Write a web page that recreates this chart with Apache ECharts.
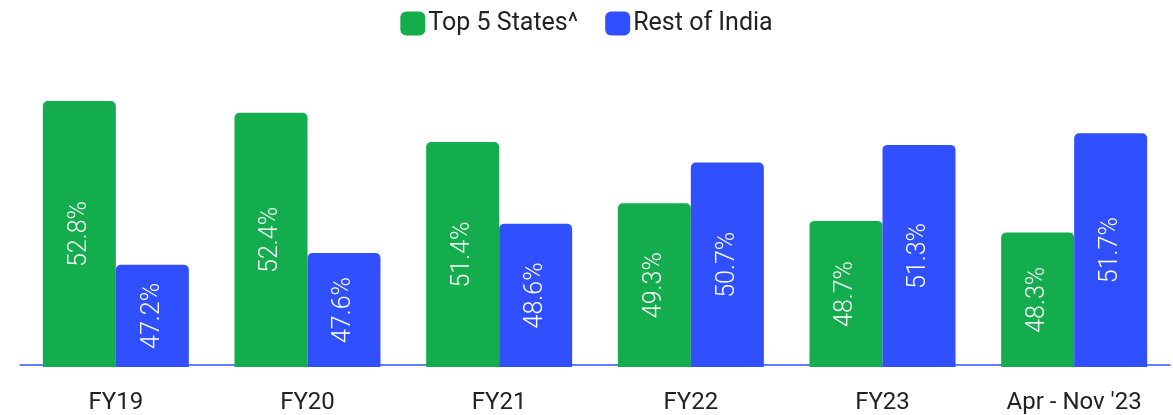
<!DOCTYPE html>
<html>
<head>
<meta charset="utf-8">
<script src="https://cdn.jsdelivr.net/npm/echarts@6/dist/echarts.min.js"></script>
<style>
  html, body { margin: 0; padding: 0; background: #fff; }
  #chart { width: 1173px; height: 415px; }
</style>
</head>
<body>
<div id="chart"></div>
<script>
const categories = ['FY19', 'FY20', 'FY21', 'FY22', 'FY23', "Apr - Nov '23"];
const top5States = [52.8, 52.4, 51.4, 49.3, 48.7, 48.3];
const restOfIndia = [47.2, 47.6, 48.6, 50.7, 51.3, 51.7];

const green = '#14ad4d';
const blue = '#3050ff';
const font = 'Roboto';

let myChart = echarts.init(document.getElementById('chart'));

function barLabel() {
    return {
        show: true,
        position: 'inside',
        rotate: 90,
        color: '#fff',
        fontFamily: font,
        fontWeight: 300,
        fontSize: 25,
        formatter: p => p.value.toFixed(1) + '%'
    };
}

let option = {
    animation: false,
    legend: {
        top: 6,
        left: 'center',
        itemWidth: 25,
        itemHeight: 24,
        itemGap: 27,
        icon: 'roundRect',
        textStyle: { fontFamily: font, fontSize: 25, color: '#222', padding: [0, 0, 0, -2] },
        data: ['Top 5 States^', 'Rest of India']
    },
    grid: { left: 20, right: 3, top: 66, bottom: 47 },
    xAxis: {
        type: 'category',
        data: categories,
        offset: -2,
        axisLine: { lineStyle: { color: '#3050ff', width: 1.5 } },
        axisTick: { show: false },
        axisLabel: { color: '#222', fontFamily: font, fontSize: 24, margin: 26 }
    },
    yAxis: {
        type: 'value',
        min: 43.7,
        max: 54,
        show: false,
        splitLine: { show: false }
    },
    series: [
        {
            name: 'Top 5 States^',
            type: 'bar',
            data: top5States,
            barWidth: 73,
            barGap: '0%',
            itemStyle: { color: green, borderRadius: [5, 5, 0, 0] },
            label: barLabel()
        },
        {
            name: 'Rest of India',
            type: 'bar',
            data: restOfIndia,
            barWidth: 73,
            itemStyle: { color: blue, borderRadius: [5, 5, 0, 0] },
            label: barLabel()
        }
    ]
};

option && myChart.setOption(option);
</script>
</body>
</html>
